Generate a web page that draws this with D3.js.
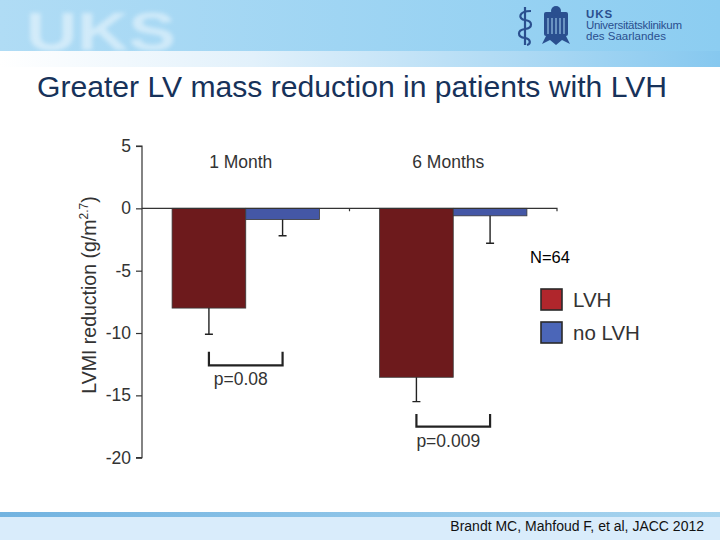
<!DOCTYPE html>
<html><head><meta charset="utf-8">
<script src="https://cdn.jsdelivr.net/npm/d3@7"></script>
<style>
html,body{margin:0;padding:0;background:#fff;}
svg{display:block;font-family:"Liberation Sans",Arial,sans-serif;}
</style></head>
<body>
<script>
// ---- data ----
const periods = ["1 Month", "6 Months"];
const groups = ["LVH", "no LVH"];
const lvhValues = [-8.0, -13.55];
const lvhErrors = [-10.1, -15.5];
const noLvhValues = [-0.9, -0.6];
const noLvhErrors = [-2.2, -2.8];
const pValues = ["p=0.08", "p=0.009"];
const bracketTop = [-11.5, -16.5];
const bracketBottom = [-12.6, -17.5];
const yTicks = [5, 0, -5, -10, -15, -20];
const sampleLabel = "N=64";

const W = 720, H = 540;
const svg = d3.select("body").append("svg").attr("width", W).attr("height", H);
const defs = svg.append("defs");

// ---- header ----
const hg = defs.append("linearGradient").attr("id","hg").attr("x1","0").attr("x2","1");
hg.append("stop").attr("offset","0").attr("stop-color","#b0dcf5");
hg.append("stop").attr("offset","1").attr("stop-color","#8ccdf1");
svg.append("rect").attr("x",0).attr("y",0).attr("width",W).attr("height",52).attr("fill","url(#hg)");
defs.append("filter").attr("id","blur").append("feGaussianBlur").attr("stdDeviation",2.2);
svg.append("text").attr("x",26).attr("y",50).attr("font-size",54).attr("font-weight","bold")
  .attr("fill","#ffffff").attr("opacity",0.45).attr("filter","url(#blur)")
  .attr("textLength",150).attr("lengthAdjust","spacingAndGlyphs").text("UKS");
const sg = defs.append("linearGradient").attr("id","sg").attr("x1","0").attr("x2","1");
sg.append("stop").attr("offset","0").attr("stop-color","#ffffff");
sg.append("stop").attr("offset","0.35").attr("stop-color","#e2f1fb");
sg.append("stop").attr("offset","1").attr("stop-color","#86c8ef");
svg.append("rect").attr("x",0).attr("y",51).attr("width",W).attr("height",16).attr("fill","url(#sg)");

// logo
const logo = svg.append("g").attr("fill","none").attr("stroke","#2a4f8f").attr("stroke-width",2.2);
logo.append("line").attr("x1",525).attr("y1",7).attr("x2",525).attr("y2",45);
logo.append("path").attr("d","M531,11 C518,11 518,19 525,20 C533,21 533,28 525,29 C517,30 517,37 525,38 C531,39 531,44 527,45");
const eagle = svg.append("g").attr("fill","#2a4f8f");
eagle.append("rect").attr("x",544).attr("y",12).attr("width",24).attr("height",24).attr("rx",2);
eagle.append("circle").attr("cx",556).attr("cy",11).attr("r",5);
eagle.append("path").attr("d","M546,36 L542,44 L550,40 L556,45 L562,40 L570,44 L566,36 Z");
const stripes = svg.append("g").attr("stroke","#a9d8f3").attr("stroke-width",1);
[548,552,556,560,564].forEach(x => stripes.append("line").attr("x1",x).attr("y1",18).attr("x2",x).attr("y2",34));
const lt = svg.append("g").attr("fill","#2a4f8f").attr("font-size",11.5);
lt.append("text").attr("x",586).attr("y",18).attr("font-weight","bold").attr("letter-spacing",1).text("UKS");
lt.append("text").attr("x",586).attr("y",29).attr("textLength",96).text("Universitätsklinikum");
lt.append("text").attr("x",586).attr("y",40).text("des Saarlandes");

// ---- title ----
svg.append("text").attr("x",37).attr("y",97).attr("font-size",30).attr("fill","#17325a")
  .attr("textLength",630).attr("lengthAdjust","spacingAndGlyphs")
  .text("Greater LV mass reduction in patients with LVH");

// ---- footer ----
const fg = defs.append("linearGradient").attr("id","fg").attr("x1","0").attr("x2","1");
fg.append("stop").attr("offset","0").attr("stop-color","#72b3e0");
fg.append("stop").attr("offset","1").attr("stop-color","#a9d5ef");
svg.append("rect").attr("x",0).attr("y",512).attr("width",W).attr("height",5).attr("fill","url(#fg)");
svg.append("rect").attr("x",0).attr("y",517).attr("width",W).attr("height",23).attr("fill","#d9ecfb");
svg.append("text").attr("x",704).attr("y",531).attr("text-anchor","end").attr("font-size",14)
  .attr("fill","#111").text("Brandt MC, Mahfoud F, et al, JACC 2012");

// ---- chart ----
const y = d3.scaleLinear().domain([5,-20]).range([146,457.7]);
const x0 = d3.scaleBand().domain(periods).range([142,557]).padding(0);
const bw = x0.bandwidth();
const x1 = d3.scaleBand().domain(groups).range([bw*0.145, bw*0.855]).padding(0);

const axisCol = "#333";
const yAxis = svg.append("g").attr("transform","translate(142,0)")
  .call(d3.axisLeft(y).tickValues(yTicks).tickSize(6).tickPadding(5).tickFormat(d => String(d)));
yAxis.select(".domain").attr("stroke",axisCol).attr("stroke-width",1.2).attr("d","M-6,146H0V457.7H-6");
yAxis.selectAll(".tick line").attr("stroke",axisCol).attr("stroke-width",1.2);
yAxis.selectAll(".tick text").attr("font-size",17.5).attr("fill","#333")
  .attr("font-family","'Liberation Sans',Arial,sans-serif");

svg.append("text").attr("transform","translate(96,295) rotate(-90)").attr("text-anchor","middle")
  .attr("font-size",19.5).attr("fill","#333")
  .call(t => { t.append("tspan").text("LVMI reduction (g/m");
               t.append("tspan").attr("font-size",12).attr("dy",-8).text("2.7");
               t.append("tspan").attr("dy",8).text(")"); });

const colors = {"LVH":"#6d1a1c","no LVH":"#4457a6"};
const legendColors = {"LVH":"#b0262c","no LVH":"#4b66b8"};
const rows = periods.map((p,i) => ({period:p, vals:[
  {g:"LVH", v:lvhValues[i], e:lvhErrors[i]},
  {g:"no LVH", v:noLvhValues[i], e:noLvhErrors[i]}]}));

const gg = svg.selectAll(".grp").data(rows).enter().append("g")
  .attr("transform", d => `translate(${x0(d.period)},0)`);
gg.selectAll("rect").data(d => d.vals).enter().append("rect")
  .attr("x", d => x1(d.g)).attr("width", x1.bandwidth())
  .attr("y", y(0)).attr("height", d => y(d.v) - y(0))
  .attr("fill", d => colors[d.g]).attr("stroke","#3a3a3a").attr("stroke-width",0.8);
gg.selectAll(".err").data(d => d.vals).enter().append("path")
  .attr("fill","none").attr("stroke","#222").attr("stroke-width",1.4)
  .attr("d", d => { const cx = x1(d.g)+x1.bandwidth()/2;
    return `M${cx},${y(d.v)}V${y(d.e)}M${cx-4},${y(d.e)}H${cx+4}`; });
gg.append("text").attr("x", bw/2 - 5).attr("y", 168).attr("text-anchor","middle")
  .attr("font-size",17.5).attr("fill","#333").text(d => d.period);

// zero line
svg.append("path").attr("stroke",axisCol).attr("stroke-width",1.2).attr("fill","none")
  .attr("d", `M142,${y(0)}H557V${y(0)+3}M${x0(periods[1])},${y(0)}V${y(0)+3}`);

// brackets
gg.append("path").attr("fill","none").attr("stroke","#222").attr("stroke-width",2.2)
  .attr("d", (d,i) => { const a = x1("LVH")+x1.bandwidth()/2, b = x1("no LVH")+x1.bandwidth()/2;
    return `M${a},${y(bracketTop[i])}V${y(bracketBottom[i])}H${b}V${y(bracketTop[i])}`; });
gg.append("text").attr("x", bw/2 - 5).attr("y", (d,i) => y(bracketBottom[i]) + 20)
  .attr("text-anchor","middle").attr("font-size",17.5).attr("fill","#333").text((d,i) => pValues[i]);

// N and legend
svg.append("text").attr("x",530).attr("y",263).attr("font-size",16.5).attr("fill","#000").text(sampleLabel);
const lg = svg.selectAll(".lg").data(groups).enter().append("g")
  .attr("transform", (d,i) => `translate(541,${289 + i*33})`);
lg.append("rect").attr("width",21).attr("height",21).attr("fill", d => legendColors[d])
  .attr("stroke","#2a2a2a").attr("stroke-width",1.6);
lg.append("text").attr("x",32).attr("y",18).attr("font-size",20.5).attr("fill","#333").text(d => d);
</script>
</body></html>
